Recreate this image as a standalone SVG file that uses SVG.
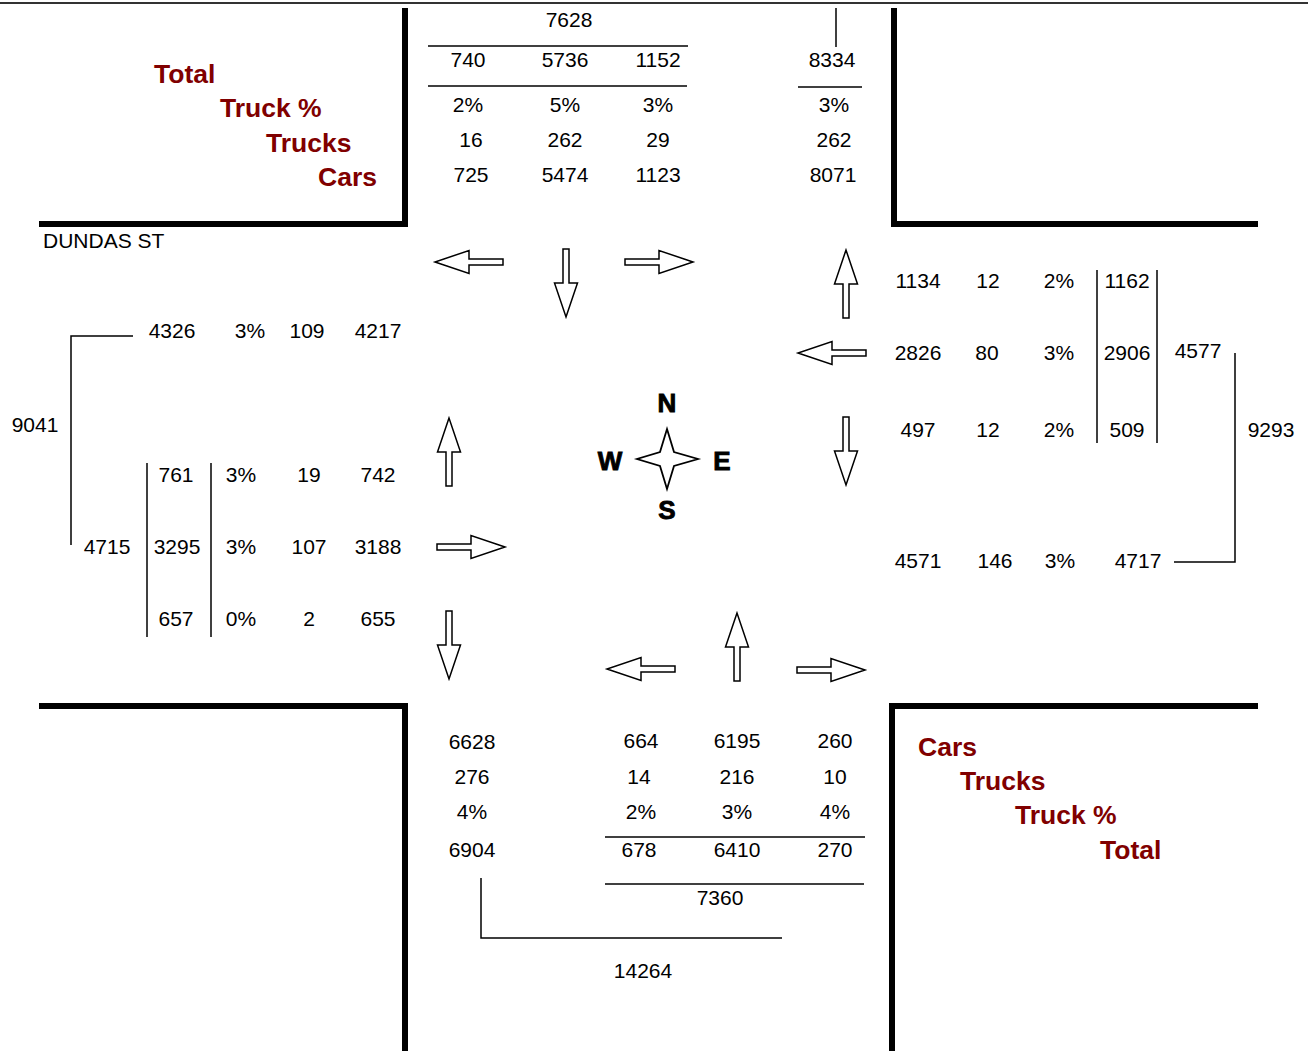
<svg xmlns="http://www.w3.org/2000/svg" width="1308" height="1051" viewBox="0 0 1308 1051">
<style>
.n{font-family:"Liberation Sans",Arial,sans-serif;font-size:21px;fill:#000;text-anchor:middle}
.l{font-family:"Liberation Sans",Arial,sans-serif;font-size:21px;fill:#000}
.h{font-family:"Liberation Sans",Arial,sans-serif;font-size:26.5px;font-weight:bold;fill:#800000}
.c{font-family:"Liberation Sans",Arial,sans-serif;font-size:26px;font-weight:bold;fill:#000;stroke:#000;stroke-width:0.9;text-anchor:middle}
.w{stroke:#000;stroke-width:6;fill:none}
.t{stroke:#000;stroke-width:1.5;fill:none}
.a{fill:#fff;stroke:#000;stroke-width:1.5;stroke-linejoin:miter}
</style>
<defs>
<path id="arr" class="a" d="M0,0 L-34,-11.5 L-34,-3 L-68,-3 L-68,3 L-34,3 L-34,11.5 Z"/>
</defs>
<rect width="1308" height="1051" fill="#fff"/>
<line x1="0" y1="3" x2="1308" y2="3" stroke="#333" stroke-width="2"/>
<g id="walls">
<path class="w" d="M405,8 V224 H39"/>
<path class="w" d="M894,8 V224 H1258"/>
<path class="w" d="M39,706 H405 V1051"/>
<path class="w" d="M1258,706 H892 V1051"/>
</g>
<g id="nw-legend">
<text class="h" x="154" y="83">Total</text>
<text class="h" x="220" y="117">Truck %</text>
<text class="h" x="266" y="152">Trucks</text>
<text class="h" x="318" y="186">Cars</text>
</g>
<text class="l" x="43" y="248">DUNDAS ST</text>
<g id="north">
<text class="n" x="569" y="27">7628</text>
<line class="t" x1="428" y1="46" x2="688" y2="46"/>
<text class="n" x="468" y="67">740</text><text class="n" x="565" y="67">5736</text><text class="n" x="658" y="67">1152</text>
<line class="t" x1="428" y1="86" x2="687" y2="86"/>
<text class="n" x="468" y="112">2%</text><text class="n" x="565" y="112">5%</text><text class="n" x="658" y="112">3%</text>
<text class="n" x="471" y="147">16</text><text class="n" x="565" y="147">262</text><text class="n" x="658" y="147">29</text>
<text class="n" x="471" y="182">725</text><text class="n" x="565" y="182">5474</text><text class="n" x="658" y="182">1123</text>
<line class="t" x1="836" y1="8" x2="836" y2="47"/>
<text class="n" x="832" y="67">8334</text>
<line class="t" x1="798" y1="87" x2="862" y2="87"/>
<text class="n" x="834" y="112">3%</text>
<text class="n" x="834" y="147">262</text>
<text class="n" x="833" y="182">8071</text>
</g>
<g id="west">
<path class="t" d="M133,336 H71 V545"/>
<text class="n" x="172" y="338">4326</text><text class="n" x="250" y="338">3%</text><text class="n" x="307" y="338">109</text><text class="n" x="378" y="338">4217</text>
<text class="n" x="35" y="432">9041</text>
<line class="t" x1="147" y1="463" x2="147" y2="637"/>
<line class="t" x1="211" y1="463" x2="211" y2="637"/>
<text class="n" x="176" y="482">761</text><text class="n" x="241" y="482">3%</text><text class="n" x="309" y="482">19</text><text class="n" x="378" y="482">742</text>
<text class="n" x="107" y="554">4715</text><text class="n" x="177" y="554">3295</text><text class="n" x="241" y="554">3%</text><text class="n" x="309" y="554">107</text><text class="n" x="378" y="554">3188</text>
<text class="n" x="176" y="626">657</text><text class="n" x="241" y="626">0%</text><text class="n" x="309" y="626">2</text><text class="n" x="378" y="626">655</text>
</g>
<g id="east">
<line class="t" x1="1097" y1="270" x2="1097" y2="443"/>
<line class="t" x1="1157" y1="270" x2="1157" y2="443"/>
<text class="n" x="918" y="288">1134</text><text class="n" x="988" y="288">12</text><text class="n" x="1059" y="288">2%</text><text class="n" x="1127" y="288">1162</text>
<text class="n" x="918" y="360">2826</text><text class="n" x="987" y="360">80</text><text class="n" x="1059" y="360">3%</text><text class="n" x="1127" y="360">2906</text><text class="n" x="1198" y="358">4577</text>
<text class="n" x="918" y="437">497</text><text class="n" x="988" y="437">12</text><text class="n" x="1059" y="437">2%</text><text class="n" x="1127" y="437">509</text>
<text class="n" x="1271" y="437">9293</text>
<path class="t" d="M1235,353 V562 H1174"/>
<text class="n" x="918" y="568">4571</text><text class="n" x="995" y="568">146</text><text class="n" x="1060" y="568">3%</text><text class="n" x="1138" y="568">4717</text>
</g>
<g id="south">
<text class="n" x="472" y="749">6628</text><text class="n" x="472" y="784">276</text><text class="n" x="472" y="819">4%</text><text class="n" x="472" y="857">6904</text>
<text class="n" x="641" y="748">664</text><text class="n" x="737" y="748">6195</text><text class="n" x="835" y="748">260</text>
<text class="n" x="639" y="784">14</text><text class="n" x="737" y="784">216</text><text class="n" x="835" y="784">10</text>
<text class="n" x="641" y="819">2%</text><text class="n" x="737" y="819">3%</text><text class="n" x="835" y="819">4%</text>
<line class="t" x1="605" y1="837" x2="865" y2="837"/>
<text class="n" x="639" y="857">678</text><text class="n" x="737" y="857">6410</text><text class="n" x="835" y="857">270</text>
<line class="t" x1="605" y1="884" x2="864" y2="884"/>
<text class="n" x="720" y="905">7360</text>
<path class="t" d="M481,878 V938 H782"/>
<text class="n" x="643" y="978">14264</text>
</g>
<g id="se-legend">
<text class="h" x="918" y="756">Cars</text>
<text class="h" x="960" y="790">Trucks</text>
<text class="h" x="1015" y="824">Truck %</text>
<text class="h" x="1100" y="859">Total</text>
</g>
<g id="compass">
<path d="M667,429 L674,452 L698,459 L674,466 L667,489 L660,466 L637,459 L660,452 Z" fill="#fff" stroke="#000" stroke-width="1.8"/>
<text class="c" x="667" y="412">N</text>
<text class="c" x="610" y="470">W</text>
<text class="c" x="722" y="470">E</text>
<text class="c" x="667" y="519">S</text>
</g>
<g id="connectors">
<use href="#arr" transform="translate(435,262) rotate(180)"/>
<use href="#arr" transform="translate(566,317) rotate(90)"/>
<use href="#arr" transform="translate(693,262)"/>
<use href="#arr" transform="translate(846,250) rotate(-90)"/>
<use href="#arr" transform="translate(798,353) rotate(180)"/>
<use href="#arr" transform="translate(846,485) rotate(90)"/>
<use href="#arr" transform="translate(449,418) rotate(-90)"/>
<use href="#arr" transform="translate(505,547)"/>
<use href="#arr" transform="translate(449,679) rotate(90)"/>
<use href="#arr" transform="translate(607,669) rotate(180)"/>
<use href="#arr" transform="translate(737,613) rotate(-90)"/>
<use href="#arr" transform="translate(865,670)"/>
</g>
</svg>
